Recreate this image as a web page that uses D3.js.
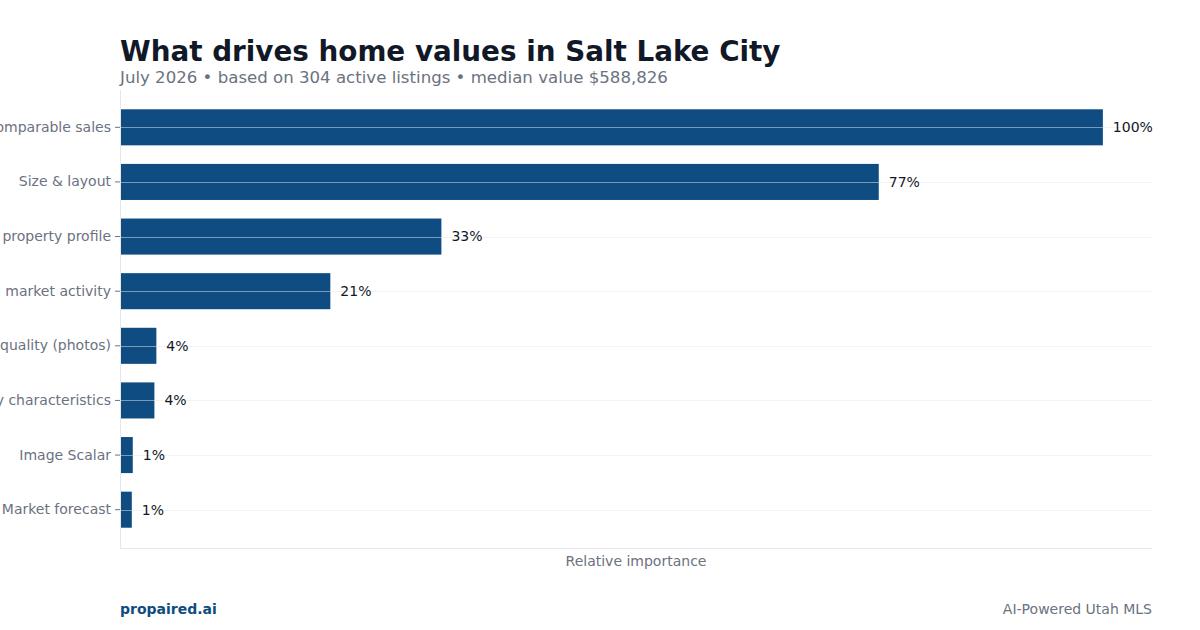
<!doctype html>
<html lang="en">
<head>
  <meta charset="utf-8">
  <script src="https://cdnjs.cloudflare.com/ajax/libs/d3/7.8.5/d3.min.js"></script>
  <style>
    html, body {margin:0; padding:0; background:#fff;}
    svg {display:block; font-family:"DejaVu Sans", sans-serif;}
  </style>
</head>
<body>
<div id="view"></div>
<script>
// chart data
var factors = ["Comparable sales", "Size & layout", "Location & property profile", "Neighborhood market activity",
               "Listing quality (photos)", "Property characteristics", "Image Scalar", "Market forecast"];
var importance = [1.0, 0.772, 0.327, 0.214, 0.037, 0.035, 0.013, 0.012];
var valueLabels = ["100%", "77%", "33%", "21%", "4%", "4%", "1%", "1%"];

var W = 1200, H = 630;
var plotLeft = 120, plotRight = 1152, plotTop = 100, plotBottom = 548;

var svg = d3.select("#view").append("svg")
    .attr("width", W)
    .attr("height", H);

var x = d3.scaleLinear().domain([0, 1.05]).range([plotLeft, plotRight]);
var y = d3.scaleBand().domain(factors).range([plotTop, 537])
    .paddingInner(0.34).paddingOuter(0.17);

//plot frame (left + bottom lines)
svg.append("line").attr("x1", plotLeft + 0.5).attr("x2", plotLeft + 0.5).attr("y1", plotTop - 10).attr("y2", plotBottom)
    .attr("stroke", "#e5e7eb").attr("stroke-width", 1);
svg.append("line").attr("x1", plotLeft).attr("x2", plotRight).attr("y1", plotBottom + 0.5).attr("y2", plotBottom + 0.5)
    .attr("stroke", "#e5e7eb").attr("stroke-width", 1);

var data = factors.map(function(f, i){ return {name:f, v:importance[i], label:valueLabels[i]}; });

svg.selectAll("rect.bar").data(data).enter().append("rect")
    .attr("class", "bar")
    .attr("x", x(0) + 1)
    .attr("y", function(d){ return y(d.name); })
    .attr("width", function(d){ return x(d.v) - x(0) - 1; })
    .attr("height", y.bandwidth())
    .attr("fill", "#0f4c81");

// gridlines sit on top of the bars
svg.selectAll("line.grid").data(factors).enter().append("line")
    .attr("class", "grid")
    .attr("x1", plotLeft).attr("x2", plotRight)
    .attr("y1", function(d){ return Math.round(y(d) + y.bandwidth() / 2) + 0.5; })
    .attr("y2", function(d){ return Math.round(y(d) + y.bandwidth() / 2) + 0.5; })
    .attr("stroke", "#e5e7eb").attr("stroke-opacity", 0.5).attr("stroke-width", 1);

var yAxis = svg.append("g")
    .attr("transform", "translate(" + plotLeft + ",0)")
    .call(d3.axisLeft(y).tickSize(5).tickPadding(4));
yAxis.select(".domain").remove();
yAxis.selectAll(".tick line").attr("stroke", "#6b7280");
yAxis.selectAll(".tick text").attr("fill", "#6b7280")
    .style("font-size", "14px").style("font-family", "DejaVu Sans");

svg.selectAll("text.val").data(data).enter().append("text")
    .attr("class", "val")
    .attr("x", function(d){ return x(d.v) + 10; })
    .attr("y", function(d){ return y(d.name) + y.bandwidth() / 2; })
    .attr("dy", "0.35em")
    .attr("fill", "#111827")
    .style("font-size", "14px")
    .text(function(d){ return d.label; });

svg.append("text").attr("x", (plotLeft + plotRight) / 2).attr("y", 566)
    .attr("text-anchor", "middle").attr("fill", "#6b7280").style("font-size", "14px")
    .text("Relative importance");

// titles
svg.append("text").attr("x", 120).attr("y", 61)
    .attr("fill", "#111827").style("font-size", "27.8px").style("font-weight", "bold")
    .text("What drives home values in Salt Lake City");
svg.append("text").attr("x", 120).attr("y", 83)
    .attr("fill", "#6b7280").style("font-size", "16.6px")
    .text("July 2026 \u2022 based on 304 active listings \u2022 median value $588,826");

// footer
svg.append("text").attr("x", 120).attr("y", 614)
    .attr("fill", "#0f4c81").style("font-size", "14px").style("font-weight", "bold")
    .text("propaired.ai");
svg.append("text").attr("x", 1152).attr("y", 614).attr("text-anchor", "end")
    .attr("fill", "#6b7280").style("font-size", "14px")
    .text("AI-Powered Utah MLS");
</script>
</body>
</html>
